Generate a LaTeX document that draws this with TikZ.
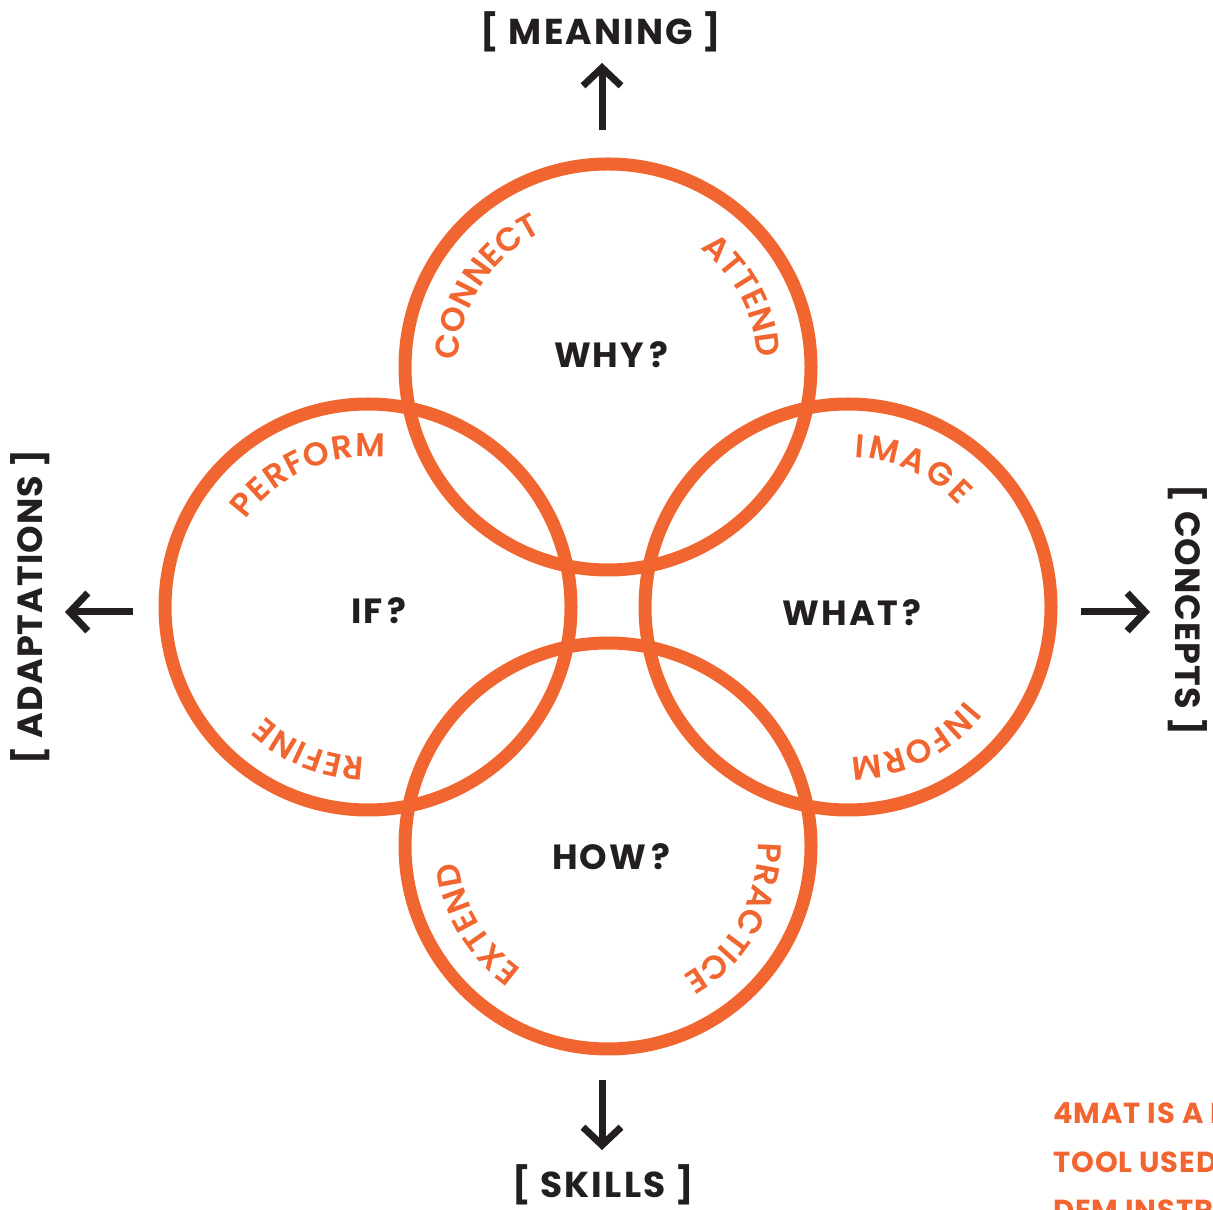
\documentclass[tikz,border=0pt]{standalone}
\usepackage{fontspec}
\setmainfont{Poppins}
\newfontfamily\medfont{Poppins SemiBold}
\newfontfamily\labfont{Poppins}[LetterSpace=6]
\newfontfamily\tightlab{Poppins}[LetterSpace=3]
\newfontfamily\notefam{Poppins}[LetterSpace=3]
\usetikzlibrary{decorations.text,arrows.meta}

\definecolor{ring}{RGB}{241,102,48}
\definecolor{ink}{RGB}{35,31,32}

% one word set along a clockwise arc of a circle
\newcommand\arcword[5]{%
  \path[decorate,decoration={text along path,
      text align={fit to path},
      text color=ring,
      text={|\medfont\fontsize{16.5}{16.5}\selectfont|#5}}]
    (#1) ++(#2:#4) arc[start angle=#2,end angle=#3,radius=#4];}
\newcommand\qm{\kern2.5pt?}

\tikzset{
  ringline/.style={draw=ring,line width=6.5pt},
  question/.style={text=ink,font=\labfont\bfseries\fontsize{17.5}{17.5}\selectfont,inner sep=0pt},
  axislabel/.style={text=ink,font=\labfont\bfseries\fontsize{18}{18}\selectfont,inner sep=0pt},
  sidelabel/.style={text=ink,font=\tightlab\bfseries\fontsize{17.5}{17.5}\selectfont,inner sep=0pt},
  axisarrow/.style={draw=ink,line width=3.5pt,-{Straight Barb[length=9pt,width=19pt]}},
  notefont/.style={text=ring,font=\notefam\bfseries\fontsize{14.5}{14.5}\selectfont,inner sep=0pt,anchor=base west}
}

\begin{document}
\begin{tikzpicture}[x=0.5pt,y=0.5pt]
\useasboundingbox (0,0) rectangle (1213,1209);
\clip (0,0) rectangle (1213,1209);

% circle centres
\coordinate (ctop)   at (608,842);
\coordinate (cleft)  at (368,602);
\coordinate (cright) at (848,602);
\coordinate (cbot)   at (608,363);

% the four rings
\foreach \c in {ctop,cleft,cright,cbot}
  \draw[ringline] (\c) circle (203);

% words along the rings
\arcword{ctop}{177.6}{119.4}{150}{CONNECT}
\arcword{ctop}{52}{4}{150}{ATTEND}
\arcword{cleft}{144.3}{83.5}{150}{PERFORM}
\arcword{cleft}{268.7}{226.9}{150}{REFINE}
\arcword{cright}{87.4}{42.5}{150}{IMAGE}
\arcword{cright}{-38.4}{-89}{150}{INFORM}
\arcword{cbot}{1.3}{-59.3}{150}{PRACTICE}
\arcword{cbot}{235}{186}{150}{EXTEND}

% questions
\node[question] (why)  at (611,854) {WHY\qm};
\node[question] (if)   at (379,598) {IF\qm};
\node[question] (what) at (852,596) {WHAT\qm};
\node[question] (how)  at (611,352) {HOW\qm};

% axis labels
\node[axislabel] (meaning) at (601,1177) {[ MEANING ]};
\node[axislabel] (skills)  at (603,24) {[ SKILLS ]};
\node[sidelabel,rotate=90]  (adapt)    at (30,602) {[ ADAPTATIONS ]};
\node[sidelabel,rotate=-90] (concepts) at (1188,599) {[ CONCEPTS ]};

% axis arrows
\coordinate (up0) at (602,1079);  \coordinate (up1) at (602,1146);
\coordinate (dn0) at (602,129);   \coordinate (dn1) at (602,59);
\coordinate (lf0) at (133,597);   \coordinate (lf1) at (65,597);
\coordinate (rt0) at (1081,597);  \coordinate (rt1) at (1150,597);
\draw[axisarrow] (up0) -- (up1);
\draw[axisarrow] (dn0) -- (dn1);
\draw[axisarrow] (lf0) -- (lf1);
\draw[axisarrow] (rt0) -- (rt1);

% note in the corner
\node[notefont] (note1) at (1053,86)  {4MAT IS A I};
\node[notefont] (note2) at (1053,37)  {TOOL USED};
\node[notefont] (note3) at (1053,-11) {DEM INSTR};
\end{tikzpicture}
\end{document}
